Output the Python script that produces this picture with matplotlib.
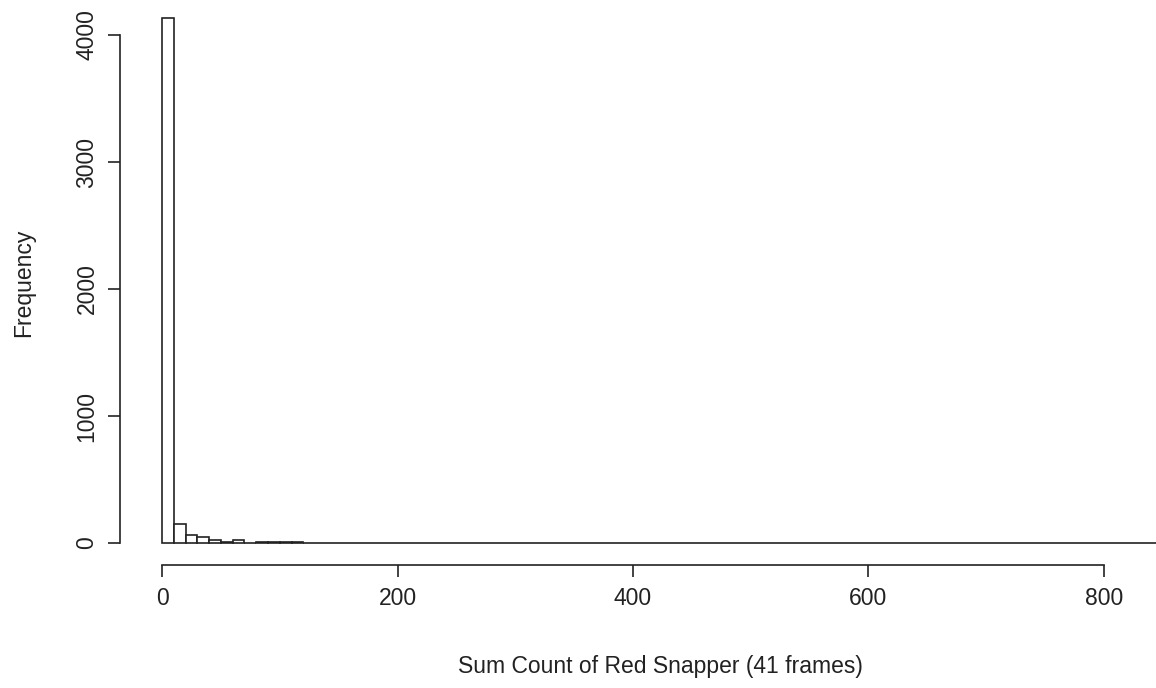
import numpy as np
import matplotlib
matplotlib.use('agg')
import matplotlib.pyplot as plt

# histogram of red snapper counts, bins of width 10 from 0 to 850
bin_edges = np.arange(0, 860, 10)
counts = [4135, 147, 65, 50, 24, 10, 24, 3, 8, 8, 8, 8] + [0] * 73

x_ticks = [0, 200, 400, 600, 800]
y_ticks = [0, 1000, 2000, 3000, 4000]

plt.rcParams['font.family'] = ['Liberation Sans', 'DejaVu Sans']

W, H = 1156, 688
fig = plt.figure(figsize=(W / 100, H / 100), dpi=100)
# plot region in pixels: left 120, right ~1201 (runs past the image edge), top 0, bottom 565
ax = fig.add_axes([120 / W, (H - 565) / H, (1201 - 120) / W, 565 / H])

ax.bar(bin_edges[:-1], counts, width=10, align='edge',
       facecolor='white', edgecolor='#222222', linewidth=1.2)

ax.set_xlim(-35.7, 882.4)
ax.set_ylim(-173, 4276)

for s in ['top', 'right']:
    ax.spines[s].set_visible(False)
ax.spines['left'].set_bounds(0, 4000)
ax.spines['bottom'].set_bounds(0, 800)
ax.spines['left'].set_linewidth(1.2)
ax.spines['bottom'].set_linewidth(1.2)
ax.spines['left'].set_color('#222222')
ax.spines['bottom'].set_color('#222222')

ax.set_xticks(x_ticks)
ax.set_yticks(y_ticks)
ax.set_yticklabels([str(v) for v in y_ticks], rotation=90, va='center')
ax.tick_params(axis='both', length=8.5, width=1.2, color='#222222',
               labelsize=16.5, pad=7, labelcolor='#222222')

ax.set_xlabel('Sum Count of Red Snapper (41 frames)', fontsize=16.5,
              labelpad=33, color='#222222')
ax.set_ylabel('Frequency', fontsize=16.5, labelpad=29, color='#222222')

fig.savefig('out.png', dpi=100)
